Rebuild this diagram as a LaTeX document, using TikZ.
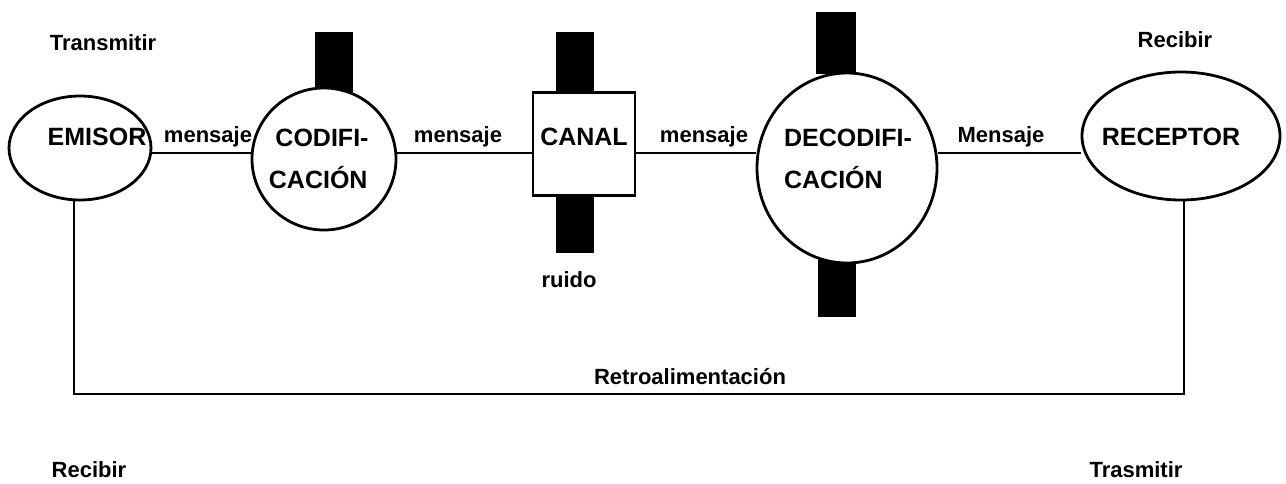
\documentclass[tikz,border=0pt]{standalone}
\usepackage{fontspec}
\setmainfont{Liberation Sans}
\usetikzlibrary{shapes.geometric}

\tikzset{
  elli/.style={draw, ellipse, line width=1.4pt, fill=white, inner sep=0pt},
  caja/.style={draw, rectangle, line width=1.4pt, fill=white, inner sep=0pt},
  bloque/.style={fill=black, draw=none, inner sep=0pt},
  txt/.style={font=\fontsize{12.5}{15}\selectfont\bfseries, inner sep=0pt},
  etiq/.style={font=\fontsize{11}{13}\selectfont\bfseries, inner sep=0pt},
  conn/.style={line width=1.4pt}
}

\begin{document}
\begin{tikzpicture}[x=0.5pt,y=-0.5pt]
			\useasboundingbox (0,0) rectangle (1286,483);
			% bloques negros
			\node[bloque, minimum width=19pt, minimum height=30pt] (bcod) at (334,62) {};
			\node[bloque, minimum width=19pt, minimum height=30pt] (bcanA) at (575,62) {};
			\node[bloque, minimum width=19pt, minimum height=30pt] (bcanB) at (575,223) {};
			\node[bloque, minimum width=20pt, minimum height=31pt] (bdecA) at (836,43) {};
			\node[bloque, minimum width=19pt, minimum height=31pt] (bdecB) at (837,286) {};
			% elementos
			\node[elli, minimum width=71pt, minimum height=52pt] (emisor) at (80,148) {};
			\node[elli, minimum width=72pt, minimum height=71pt] (codif) at (324,159) {};
			\node[caja, minimum width=51pt, minimum height=51.5pt] (canal) at (584,144) {};
			\node[elli, minimum width=90pt, minimum height=95pt] (decodif) at (847,168) {};
			\node[elli, minimum width=99pt, minimum height=64pt] (receptor) at (1181,136) {};
			\node[txt] (temisor) at (97,137) {EMISOR};
			\node[txt, align=center] (tcodif) at (322,159) {CODIFI-\\[6pt]CACIÓN\hspace*{0.3em}};
			\node[txt] (tcanal) at (584,137) {CANAL};
			\node[txt, align=left] (tdecodif) at (848,159) {DECODIFI-\\[6pt]CACIÓN};
			\node[txt] (treceptor) at (1171,137) {RECEPTOR};
			% linea del mensaje
			\coordinate (msg) at (0,153);
			\draw[conn] (emisor.east |- msg) -- (codif.west |- msg);
			\draw[conn] (codif.east |- msg) -- (canal.west |- msg);
			\draw[conn] (canal.east |- msg) -- (decodif.west |- msg);
			\draw[conn] (decodif.east |- msg) -- (receptor.west |- msg);
			\node[etiq] (m1) at (208,137) {mensaje};
			\node[etiq] (m2) at (458,137) {mensaje};
			\node[etiq] (m3) at (704,137) {mensaje};
			\node[etiq] (m4) at (1001,137) {Mensaje};
			\node[etiq] (ruido) at (569,280) {ruido};
			% retroalimentacion
			\coordinate (fbl) at (74,394);
			\coordinate (fbr) at (1184,394);
			\draw[conn] (emisor.south -| fbl) -- (fbl) -- (fbr) -- (receptor.south -| fbr);
			\node[etiq] (retro) at (690,377) {Retroalimentación};
			\node[etiq] (transA) at (103,43) {Transmitir};
			\node[etiq] (recA) at (1175,40) {Recibir};
			\node[etiq] (recB) at (89,470) {Recibir};
			\node[etiq] (transB) at (1136,470) {Trasmitir};
		\end{tikzpicture}
\end{document}
